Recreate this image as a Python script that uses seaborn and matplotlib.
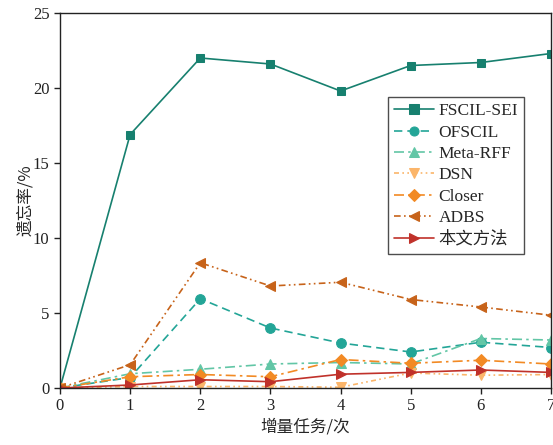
import numpy as np
import pandas as pd
import matplotlib
matplotlib.use("Agg")
import matplotlib.pyplot as plt
import seaborn as sns

tasks = [0, 1, 2, 3, 4, 5, 6, 7]
series_names = ["FSCIL-SEI", "OFSCIL", "Meta-RFF", "DSN", "Closer", "ADBS", "本文方法"]
fscil_sei = [0.0, 16.9, 22.0, 21.6, 19.8, 21.5, 21.7, 22.3]
ofscil = [0.0, 0.7, 5.95, 4.0, 3.0, 2.4, 3.05, 2.7]
meta_rff = [0.0, 0.95, 1.25, 1.6, 1.7, 1.6, 3.3, 3.2]
dsn = [0.0, 0.1, 0.1, 0.1, 0.05, 1.0, 0.85, 0.9]
closer = [0.0, 0.75, 0.9, 0.75, 1.9, 1.65, 1.85, 1.6]
adbs = [0.0, 1.55, 8.35, 6.8, 7.05, 5.9, 5.4, 4.85]
ours = [0.0, 0.2, 0.55, 0.42, 0.92, 1.04, 1.2, 1.04]
values = [fscil_sei, ofscil, meta_rff, dsn, closer, adbs, ours]

colors = ["#17806f", "#23a597", "#62c6a6", "#fbb56a", "#f28a24", "#c7631a", "#c0312a"]
markers = ["s", "o", "^", "v", "D", "<", ">"]
dash_styles = ["-", (0, (5, 3)), (0, (6, 2.5, 1.5, 2.5)), (0, (3, 2, 1, 2, 1, 2)),
               (0, (6, 2.5, 1.5, 2.5)), (0, (4, 2, 1, 2, 1, 2)), "-"]
msizes = [6, 7, 6.5, 7, 6, 7, 7]

sns.set_style("ticks")
plt.rcParams["font.family"] = ["Liberation Serif", "Noto Sans CJK SC"]
plt.rcParams["axes.linewidth"] = 1.0

fig = plt.figure(figsize=(5.53, 4.45), dpi=100)
ax = fig.add_axes([60 / 553, 1 - 388 / 445, 491 / 553, 375 / 445])

for name, vals, c, m, ls, ms in zip(series_names, values, colors, markers, dash_styles, msizes):
    df = pd.DataFrame({"task": tasks, "val": vals})
    sns.lineplot(data=df, x="task", y="val", ax=ax, color=c, marker=m, markersize=ms,
                 markeredgecolor=c, linewidth=1.2, label=name)
    ax.lines[-1].set_linestyle(ls)

ax.set_xlim(0, 7)
ax.set_ylim(0, 25)
ax.set_xticks(range(0, 8))
ax.set_yticks([0, 5, 10, 15, 20, 25])
ax.tick_params(axis="both", direction="out", length=4, width=1, labelsize=12, colors="#222222")
for s in ax.spines.values():
    s.set_visible(True)
    s.set_color("#222222")
ax.set_xlabel("增量任务/次", fontsize=12, family=["Noto Sans CJK SC"], labelpad=3)
ax.set_ylabel("遗忘率/%", fontsize=12, family=["Noto Sans CJK SC"], labelpad=-1)

leg = ax.legend(loc="upper left", bbox_to_anchor=(328 / 491, (388 - 97) / 375),
                frameon=True, fancybox=False, edgecolor="#222222", fontsize=12.5,
                handlelength=2.3, handletextpad=0.25, labelspacing=0.3, borderpad=0.35,
                borderaxespad=0)
leg.get_frame().set_linewidth(1.0)
for h in leg.get_lines():
    h.set_markersize(6.5)

fig.savefig("out.png", dpi=100)
